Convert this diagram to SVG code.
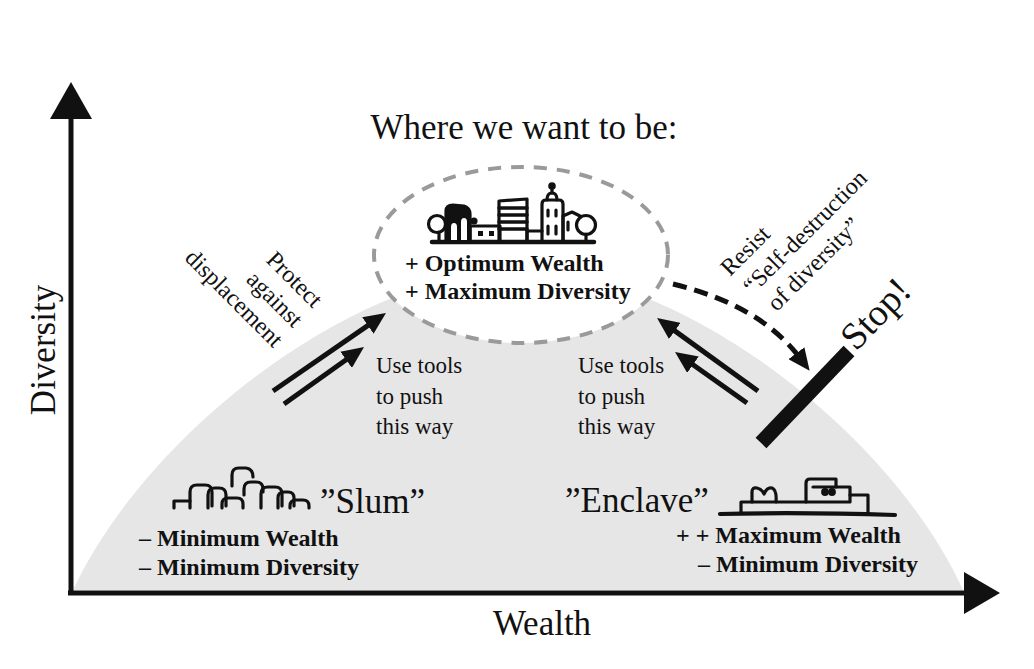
<svg xmlns="http://www.w3.org/2000/svg" width="1034" height="669" viewBox="0 0 1034 669">
<defs>
<style>
text{font-family:"Liberation Serif","Times New Roman",serif;fill:#111;}
.big{font-size:35px;}
.lab{font-size:24px;font-weight:bold;}
.sm{font-size:23px;}
.rot{font-size:24px;}
.ico{stroke:#111;stroke-width:3.2;fill:none;stroke-linejoin:round;stroke-linecap:round;}
.arr{stroke:#111;stroke-width:5;fill:none;marker-end:url(#ah);}
</style>
<marker id="ah" viewBox="0 0 22 20" markerWidth="22" markerHeight="20" markerUnits="userSpaceOnUse" refX="6" refY="10" orient="auto">
<path d="M0,0 L22,10 L0,20 Z" fill="#111"/>
</marker>
</defs>
<rect width="1034" height="669" fill="#fff"/>

<g id="hill">
<path d="M73,590 C148,430 360,270 519,270 C678,270 890,430 963,590 Z" fill="#e6e6e7"/>
</g>

<g id="target">
<ellipse cx="521" cy="255" rx="147" ry="88" fill="#fff" stroke="#9a9a9a" stroke-width="4" stroke-dasharray="13 10"/>
<g id="city-icon" class="ico">
<path d="M432,242 H594" stroke-width="4.5"/>
<circle cx="437" cy="224" r="8.5"/>
<path d="M439,232 V242"/>
<path d="M446,242 V211 Q446,205 453,205 L464,206 Q470,208 470,214 V242 Z" fill="#111"/>
<path d="M451,240 V227 Q451,223 454,223 Q457,223 457,227 V240 Z M461,240 V222 Q461,218 464,218 Q467,218 467,222 V240 Z" fill="#fff" stroke="none"/>
<path d="M470,242 V226 H500 V242"/>
<circle cx="474" cy="221" r="2" fill="#111"/>
<rect x="478" y="231" width="5" height="5" fill="#111" stroke="none"/>
<rect x="489" y="231" width="5" height="5" fill="#111" stroke="none"/>
<path d="M499,242 V201 L527,199 V242"/>
<path d="M499,208 H527 M499,215 H527 M499,222 H527 M499,229 H527" stroke-width="3.5"/>
<path d="M527,242 V231 H542"/>
<path d="M542,242 V204 Q542,200 546,200 H559 Q563,200 563,204 V242"/>
<path d="M547,200 Q547,193 552,193 Q557,193 557,200"/>
<path d="M552,193 V187"/>
<circle cx="552" cy="186" r="2.2" fill="#111"/>
<path d="M548,210 V216 M556,210 V216 M548,226 V234 M556,226 V234"/>
<path d="M563,242 V216 L572,212 L580,216"/>
<path d="M568,222 V230"/>
<circle cx="586" cy="225" r="9.5"/>
<path d="M586,234 V242"/>
</g>
<text class="lab" x="405" y="271">+ Optimum Wealth</text>
<text class="lab" x="405" y="299">+ Maximum Diversity</text>
</g>

<g id="title">
<text class="big" x="524" y="139" text-anchor="middle">Where we want to be:</text>
</g>

<g id="slum">
<g class="ico" stroke-width="4.5">
<path d="M174,508 V501 H190"/>
<path d="M190,508 V492 Q190,485 197,485 H205 Q212,485 212,492 V506"/>
<path d="M208,508 V495 Q208,488 215,488 H219 Q226,488 226,495 V506"/>
<path d="M222,508 V504 Q222,498 228,498 H237 Q243,498 243,504 V508"/>
<path d="M232,486 V475 Q232,468 239,468 H246 Q253,469 253,477"/>
<path d="M244,495 V489 Q244,482 251,482 H256 Q263,482 263,489 V492"/>
<path d="M261,508 V494 Q261,487 268,487 H275 Q282,487 282,494 V506"/>
<path d="M278,508 V498 Q278,492 284,492 H288 Q294,492 294,498 V506"/>
<path d="M290,508 V506 Q290,500 296,500 H303 Q309,500 309,506 V508"/>
</g>
<text class="big" x="320" y="513" font-size="36">”Slum”</text>
<text class="lab" x="139" y="546">– Minimum Wealth</text>
<text class="lab" x="139" y="575">– Minimum Diversity</text>
</g>

<g id="enclave">
<g class="ico">
<path d="M720,514 Q800,512 895,515" stroke-width="4.2"/>
<path d="M741,513 V502 H850 V495 H868 V513"/>
<path d="M752,502 V492 Q752,487 757,488 Q762,489 764,494 Q767,487 772,488 Q777,490 776,502"/>
<path d="M806,502 V483 Q806,479 810,479 H836 V487 H850 V495"/>
<path d="M813,487 H836"/>
<circle cx="825" cy="492" r="2.3" fill="#111"/>
<circle cx="832" cy="492" r="2.3" fill="#111"/>
</g>
<text class="big" x="565" y="512" font-size="36">”Enclave”</text>
<text class="lab" x="676" y="543">+ + Maximum Wealth</text>
<text class="lab" x="698" y="572">– Minimum Diversity</text>
</g>

<g id="stop">
<line x1="761" y1="443" x2="849" y2="351" stroke="#111" stroke-width="15"/>
<text transform="translate(856,352) rotate(-46)" font-size="38">Stop!</text>
</g>

<g id="notes">
<text class="rot" transform="translate(313,309) rotate(45)" text-anchor="end"><tspan x="0" y="0">Protect</tspan><tspan x="0" y="28">against</tspan><tspan x="0" y="56">displacement</tspan></text>
<text class="rot" transform="translate(730,277) rotate(-45)"><tspan x="0" y="0">Resist</tspan><tspan x="3" y="29">“Self-destruction</tspan><tspan x="8" y="58">of diversity”</tspan></text>
<text class="sm" x="376" y="373">Use tools</text>
<text class="sm" x="376" y="404">to push</text>
<text class="sm" x="376" y="434">this way</text>
<text class="sm" x="578" y="373">Use tools</text>
<text class="sm" x="578" y="404">to push</text>
<text class="sm" x="578" y="434">this way</text>
</g>

<g id="connectors">
<path class="arr" d="M273,391 L372.8,322.1"/>
<path class="arr" d="M284,404 L351,356.3"/>
<path class="arr" d="M758,391 L670,327.4"/>
<path class="arr" d="M747,403 L688.1,361.3"/>
<path class="arr" d="M673,284 Q760,305 800,358" stroke-width="4" stroke-dasharray="14 8"/>
</g>

<g id="axes">
<path d="M71,594 V115" stroke="#111" stroke-width="5" fill="none"/>
<path d="M50,119 L71,82 L92,119 Z" fill="#111"/>
<path d="M68,593 H966" stroke="#111" stroke-width="5" fill="none"/>
<path d="M964,572 L1000,593 L964,614 Z" fill="#111"/>
<text class="big" transform="translate(55,350) rotate(-90)" text-anchor="middle">Diversity</text>
<text class="big" x="542" y="635" text-anchor="middle">Wealth</text>
</g>
</svg>
